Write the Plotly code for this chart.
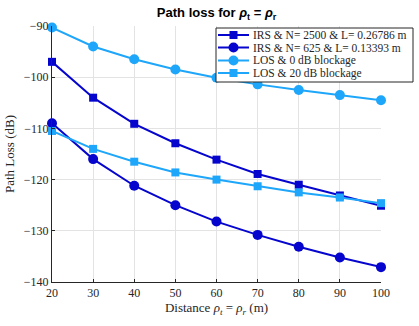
import plotly.graph_objects as go

# distances (m)
distance = [20, 30, 40, 50, 60, 70, 80, 90, 100]

# path loss values (dB)
irs_2500 = [-97, -104, -109.1, -112.9, -116.1, -118.9, -121, -123.1, -125.1]
irs_625 = [-109, -116, -121.2, -125, -128.2, -130.8, -133.1, -135.2, -137.1]
los_0db = [-90.3, -94, -96.5, -98.5, -100.1, -101.4, -102.5, -103.5, -104.5]
los_20db = [-110.5, -114, -116.5, -118.6, -120, -121.3, -122.5, -123.5, -124.6]

names = [
    "IRS &amp; N= 2500 &amp; L= 0.26786 m",
    "IRS &amp; N= 625 &amp; L= 0.13393 m",
    "LOS &amp; 0 dB blockage",
    "LOS &amp; 20 dB blockage",
]

W, H = 419, 326
L, R, T, B = 52, 38, 26, 44
dark = "#0505CD"
light = "#1EA6FA"
serif = "Liberation Serif"
ink = "#262626"
PW, PH = W - L - R, H - T - B


def px(x):
    return (x - L) / PW


def py(y):
    return (H - B - y) / PH


fig = go.Figure()
series = [
    (irs_2500, dark, "square", 8),
    (irs_625, dark, "circle", 10),
    (los_0db, light, "circle", 10),
    (los_20db, light, "square", 8),
]
for (ys, col, sym, sz), nm in zip(series, names):
    fig.add_trace(go.Scatter(
        x=distance, y=ys, name=nm, mode="lines+markers",
        line=dict(color=col, width=2),
        marker=dict(symbol=sym, size=sz, color=col),
        cliponaxis=False, showlegend=False,
    ))

# hand-drawn legend (matlab style, tighter than plotly's own)
shapes = [dict(type="rect", xref="paper", yref="paper",
               x0=px(216), x1=px(413), y0=py(82), y1=py(28),
               fillcolor="white", line=dict(color=ink, width=1), layer="above")]
rows = [35, 47.5, 60.5, 73]
mx = 233.5
annots = []
for (ys, col, sym, sz), nm, ry in zip(series, names, rows):
    shapes.append(dict(type="line", xref="paper", yref="paper",
                       x0=px(218), x1=px(249), y0=py(ry), y1=py(ry),
                       line=dict(color=col, width=2), layer="above"))
    h = sz / 2
    shapes.append(dict(type="circle" if sym == "circle" else "rect",
                       xref="paper", yref="paper",
                       x0=px(mx - h), x1=px(mx + h), y0=py(ry + h), y1=py(ry - h),
                       fillcolor=col, line=dict(color=col, width=0), layer="above"))
    annots.append(dict(xref="paper", yref="paper", x=px(251), y=py(ry),
                       xanchor="left", yanchor="middle", showarrow=False,
                       text=nm, font=dict(family=serif, size=11.5, color=ink)))

axis_style = dict(
    showgrid=True, gridcolor="#e3e3e3", gridwidth=1,
    showline=True, linecolor=ink, linewidth=1,
    ticks="inside", ticklen=3, tickcolor=ink,
    zeroline=False, automargin=False,
    tickfont=dict(family=serif, size=12, color=ink),
)

fig.update_layout(
    width=W, height=H,
    margin=dict(l=L, r=R, t=T, b=B),
    paper_bgcolor="white", plot_bgcolor="white",
    title=dict(
        text="<b>Path loss for <i>ρ</i><sub>t</sub> = <i>ρ</i><sub>r</sub></b>",
        x=0.517, xanchor="center", xref="container",
        y=0.975, yanchor="top",
        font=dict(family="Liberation Sans", size=13, color="black"),
    ),
    font=dict(family=serif, size=12, color=ink),
    shapes=shapes,
    annotations=annots,
    xaxis=dict(
        range=[20, 100], tickvals=list(range(20, 101, 10)),
        title=dict(text="Distance <i>ρ<sub>t</sub></i> = <i>ρ<sub>r</sub></i> (m)",
                   font=dict(family=serif, size=13, color=ink), standoff=3),
        **axis_style,
    ),
    yaxis=dict(
        range=[-140, -90], tickvals=list(range(-140, -89, 10)),
        title=dict(text="Path Loss (dB)", font=dict(family=serif, size=13, color=ink), standoff=6),
        **axis_style,
    ),
)

fig.write_html("out.html", config={"displayModeBar": False},
               post_script="document.body.style.margin='0';")
